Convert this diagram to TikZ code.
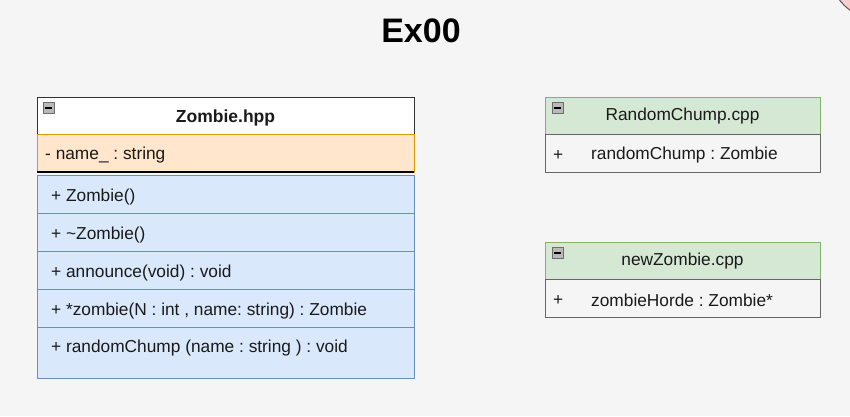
\documentclass[tikz,border=0pt]{standalone}
\usepackage{fontspec}
\setmainfont{Liberation Sans}
\frenchspacing
\definecolor{bg}{HTML}{F5F5F5}
\definecolor{hdrline}{HTML}{333333}
\definecolor{attrfill}{HTML}{FFE6CC}
\definecolor{attrline}{HTML}{D79B00}
\definecolor{methfill}{HTML}{DAE8FC}
\definecolor{methline}{HTML}{6C8EBF}
\definecolor{grnfill}{HTML}{D5E8D4}
\definecolor{grnline}{HTML}{82B366}
\definecolor{grayline}{HTML}{666666}
\definecolor{txt}{HTML}{1A1A1A}
\definecolor{pinkfill}{HTML}{F8CECC}
\begin{document}
\begin{tikzpicture}[x=1pt,y=-1pt,
  cell/.style={rectangle, inner sep=0pt, outer sep=0pt, anchor=north west, line width=1pt},
  zbox/.style={cell, minimum width=377pt},
  fbox/.style={cell, minimum width=275pt},
  celltext/.style={anchor=west, inner sep=0pt, text=txt, font=\fontsize{17.3}{20}\selectfont},
  headtext/.style={inner sep=0pt, text=txt, font=\fontsize{17.3}{20}\selectfont},
  icon/.style={rectangle, inner sep=0pt, minimum width=11pt, minimum height=11pt,
    fill=gray!55, draw=gray!85!black, line width=0.6pt,
    path picture={\draw[line width=1.6pt, black]
      ([xshift=-3.5pt]path picture bounding box.center) --
      ([xshift=3.5pt]path picture bounding box.center);}}
]
\useasboundingbox (0,0) rectangle (850,416);
\fill[bg] (0,0) rectangle (850,416);
% shape peeking in at the top right corner
\begin{scope}
  \clip (0,0) rectangle (850,416);
  \draw[fill=pinkfill, draw=gray!70!black, line width=1pt] (880,-31) circle[radius=51pt];
\end{scope}

% title
\node[font=\bfseries\fontsize{34}{40}\selectfont, text=black] (title) at (421,31) {Ex00};

% ---- Zombie.hpp class ----
\node[zbox, fill=white, draw=hdrline, minimum height=37pt] (zhdr) at (37,97) {};
\node[headtext, font=\bfseries\fontsize{17.5}{20}\selectfont] (zname) at ([yshift=-2pt]zhdr.center) {Zombie.hpp};
\node[icon] (zicon) at (48.5,108) {};

\node[zbox, fill=attrfill, draw=attrline, minimum height=38pt] (zattr) at (37,134) {};
\node[celltext] (zattrt) at ([xshift=8pt, yshift=-2.5pt]zattr.west) {- name\_ : string};
\draw[black, line width=1.6pt] (zattr.south west) -- (zattr.south east);

\node[zbox, fill=methfill, draw=methline, minimum height=38pt] (m1) at (37,175) {};
\node[zbox, fill=methfill, draw=methline, minimum height=38pt] (m2) at (37,213) {};
\node[zbox, fill=methfill, draw=methline, minimum height=38pt] (m3) at (37,251) {};
\node[zbox, fill=methfill, draw=methline, minimum height=38pt] (m4) at (37,289) {};
\node[zbox, fill=methfill, draw=methline, minimum height=51pt] (m5) at (37,327) {};
\node[celltext] (m1t) at ([xshift=14pt, yshift=-3pt]m1.west) {+ Zombie()};
\node[celltext] (m2t) at ([xshift=14pt, yshift=-3pt]m2.west) {+ \textasciitilde Zombie()};
\node[celltext] (m3t) at ([xshift=14pt, yshift=-3pt]m3.west) {+ announce(void) : void};
\node[celltext] (m4t) at ([xshift=14pt, yshift=-3pt]m4.west) {+ *zombie(N : int , name: string) : Zombie};
\node[celltext] (m5t) at ([xshift=14pt, yshift=-21pt]m5.north west) {+ randomChump (name : string ) : void};

% ---- RandomChump.cpp ----
\node[fbox, fill=grnfill, draw=grnline, minimum height=37pt] (rhdr) at (545,97) {};
\node[headtext] (rname) at ([yshift=-1pt]rhdr.center) {RandomChump.cpp};
\node[icon] (ricon) at (557.5,108) {};
\node[fbox, fill=bg, draw=grayline, minimum height=38pt] (rrow) at (545,134) {};
\node[celltext] (rplus) at ([xshift=8pt, yshift=-2.5pt]rrow.west) {+};
\node[celltext] (rrowt) at ([xshift=46pt, yshift=-2.5pt]rrow.west) {randomChump : Zombie};

% ---- newZombie.cpp ----
\node[fbox, fill=grnfill, draw=grnline, minimum height=37pt] (nhdr) at (545,242) {};
\node[headtext] (nname) at ([yshift=-1pt]nhdr.center) {newZombie.cpp};
\node[icon] (nicon) at (557.5,253) {};
\node[fbox, fill=bg, draw=grayline, minimum height=38pt] (nrow) at (545,279) {};
\node[celltext] (nplus) at ([xshift=8pt, yshift=-2.5pt]nrow.west) {+};
\node[celltext] (nrowt) at ([xshift=46pt, yshift=-2.5pt]nrow.west) {zombieHorde : Zombie*};
\end{tikzpicture}
\end{document}
